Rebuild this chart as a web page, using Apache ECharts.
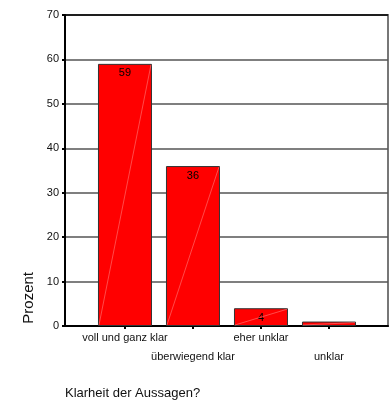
<!DOCTYPE html>
<html>
<head>
<meta charset="utf-8">
<script src="https://cdn.jsdelivr.net/npm/echarts@6/dist/echarts.min.js"></script>
<style>
  html, body { margin: 0; padding: 0; background: #fff; }
  #chart { width: 390px; height: 404px; }
</style>
</head>
<body>
<div id="chart"></div>
<script>
// Answer categories and their share in percent
const categories = ['voll und ganz klar', 'überwiegend klar', 'eher unklar', 'unklar'];
const percent = [59, 36, 4, 1];
const showValue = [true, true, true, false];
const yTicks = [0, 10, 20, 30, 40, 50, 60, 70];

const positions = categories.map((_, i) => i);
// category labels alternate between two rows so the long ones don't collide
const upperRow = positions.filter(i => i % 2 === 0);
const lowerRow = positions.filter(i => i % 2 === 1);
const FONT = '"Liberation Sans", Arial, sans-serif';
const HALF_BAR = 27;
const X_MIN = -0.882, X_MAX = 3.868;

const labelStyle = {
  showMinLabel: true, showMaxLabel: true, hideOverlap: false,
  margin: 6, fontSize: 11, color: '#111', fontFamily: FONT,
  formatter: v => categories[v]
};

const chart = echarts.init(document.getElementById('chart'), null, { renderer: 'canvas' });

chart.setOption({
  animation: false,
  backgroundColor: '#fff',
  textStyle: { fontFamily: FONT },
  grid: {
    left: 65, right: 2, top: 15, bottom: 78,
    show: true, borderColor: '#777', borderWidth: 2, backgroundColor: 'transparent'
  },
  title: {
    text: 'Klarheit der Aussagen?',
    left: 60, top: 382,
    textStyle: { fontFamily: FONT, fontSize: 13, fontWeight: 'normal', color: '#111' }
  },
  graphic: [{
    type: 'text',
    left: 21, top: 272,
    rotation: Math.PI / 2,
    style: { text: 'Prozent', font: '15px ' + FONT, fill: '#111' }
  }],
  xAxis: [
    {
      type: 'value',
      min: X_MIN, max: X_MAX,
      axisLine: { onZero: false, lineStyle: { color: '#000', width: 2 } },
      axisTick: { show: true, customValues: positions, length: 3, lineStyle: { color: '#000', width: 2 } },
      axisLabel: Object.assign({ customValues: upperRow }, labelStyle),
      splitLine: { show: false }
    },
    {
      type: 'value',
      position: 'bottom', offset: 19,
      min: X_MIN, max: X_MAX,
      axisLine: { show: false, onZero: false },
      axisTick: { show: false },
      axisLabel: Object.assign({ customValues: lowerRow }, labelStyle),
      splitLine: { show: false }
    }
  ],
  yAxis: {
    type: 'value',
    min: yTicks[0], max: yTicks[yTicks.length - 1], interval: 10,
    axisLine: { show: true, onZero: false, lineStyle: { color: '#000', width: 2 } },
    axisTick: { show: true, length: 3, lineStyle: { color: '#000', width: 2 } },
    axisLabel: { margin: 6, fontSize: 11, color: '#111', fontFamily: FONT },
    splitLine: {
      show: true,
      lineStyle: { color: ['#000', '#555', '#555', '#555', '#555', '#555', '#555', '#000'], width: 1.5 }
    }
  },
  series: [
    {
      type: 'bar',
      xAxisIndex: 0,
      barWidth: HALF_BAR * 2,
      data: percent.map((v, i) => ({
        value: [i, v],
        label: { show: showValue[i] }
      })),
      itemStyle: { color: '#ff0000', borderColor: '#333', borderWidth: 1 },
      label: {
        position: 'insideTop', distance: 4,
        fontSize: 11, color: '#000', fontFamily: FONT,
        formatter: p => String(p.value[1])
      },
      z: 2
    },
    {
      // faint diagonal sheen across each bar
      type: 'custom',
      xAxisIndex: 0,
      data: percent.map((v, i) => [i, v]),
      renderItem: (params, api) => {
        const base = api.coord([api.value(0), 0]);
        const top = api.coord([api.value(0), api.value(1)]);
        return {
          type: 'line',
          shape: { x1: base[0] - HALF_BAR + 1, y1: base[1] - 1, x2: base[0] + HALF_BAR - 1, y2: top[1] + 1 },
          style: { stroke: 'rgba(255,170,170,0.55)', lineWidth: 0.8 }
        };
      },
      silent: true,
      z: 3
    }
  ]
});
</script>
</body>
</html>
